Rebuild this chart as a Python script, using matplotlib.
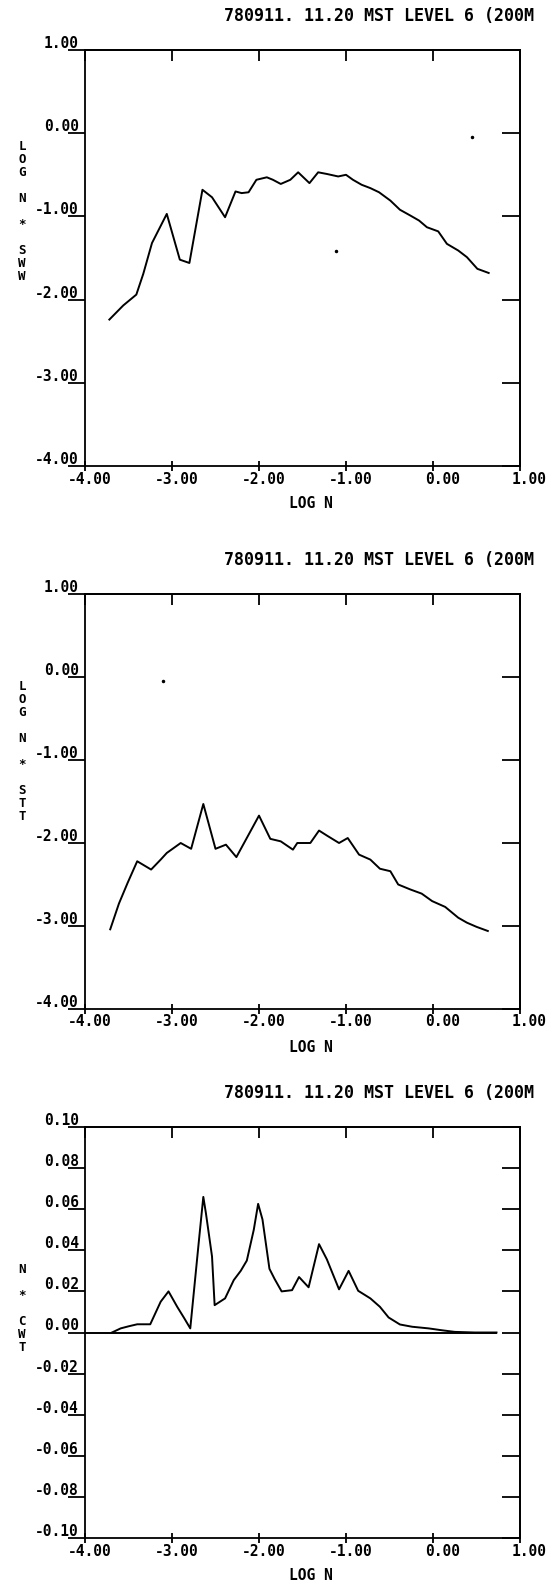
import matplotlib.pyplot as plt
from matplotlib.transforms import offset_copy, blended_transform_factory

TITLE = "780911. 11.20 MST LEVEL 6 (200M"
X_LABEL = "LOG N"
X_TICKS = [-4.0, -3.0, -2.0, -1.0, 0.0, 1.0]

# panel 1: LOG N * SWW
sww_x = [-3.72, -3.56, -3.41, -3.33, -3.23, -3.06, -2.91, -2.80, -2.65, -2.54,
         -2.39, -2.27, -2.20, -2.12, -2.03, -1.91, -1.84, -1.75, -1.64, -1.55,
         -1.42, -1.32, -1.22, -1.09, -1.00, -0.92, -0.82, -0.72, -0.62, -0.49,
         -0.38, -0.26, -0.16, -0.07, 0.06, 0.16, 0.29, 0.39, 0.51, 0.64]
sww_y = [-2.24, -2.07, -1.94, -1.69, -1.32, -0.97, -1.52, -1.56, -0.68, -0.77,
         -1.01, -0.70, -0.72, -0.71, -0.56, -0.53, -0.56, -0.61, -0.56, -0.47,
         -0.60, -0.47, -0.49, -0.52, -0.50, -0.56, -0.62, -0.66, -0.71, -0.81,
         -0.92, -0.99, -1.05, -1.13, -1.18, -1.33, -1.41, -1.49, -1.63, -1.68]
sww_specks_x = [0.45, -1.11]
sww_specks_y = [-0.04, -1.41]

# panel 2: LOG N * STT
stt_x = [-3.71, -3.61, -3.51, -3.40, -3.24, -3.13, -3.06, -2.90, -2.78, -2.64,
         -2.50, -2.38, -2.26, -2.13, -2.00, -1.87, -1.75, -1.61, -1.56, -1.41,
         -1.31, -1.22, -1.08, -0.98, -0.85, -0.72, -0.61, -0.49, -0.40, -0.26,
         -0.13, -0.01, 0.14, 0.29, 0.39, 0.50, 0.63]
stt_y = [-3.04, -2.73, -2.48, -2.22, -2.32, -2.20, -2.12, -2.00, -2.07, -1.53,
         -2.07, -2.02, -2.17, -1.92, -1.67, -1.95, -1.98, -2.08, -2.00, -2.00,
         -1.85, -1.91, -2.00, -1.94, -2.14, -2.20, -2.31, -2.34, -2.50, -2.56,
         -2.61, -2.70, -2.77, -2.90, -2.96, -3.01, -3.06]
stt_specks_x = [-3.10]
stt_specks_y = [-0.05]

# panel 3: N * CWT
cwt_x = [-3.69, -3.59, -3.50, -3.40, -3.25, -3.13, -3.04, -2.94, -2.86, -2.79,
         -2.69, -2.64, -2.61, -2.54, -2.51, -2.39, -2.29, -2.21, -2.14, -2.06,
         -2.01, -1.96, -1.88, -1.82, -1.74, -1.62, -1.54, -1.43, -1.31, -1.22,
         -1.08, -0.97, -0.86, -0.72, -0.61, -0.51, -0.38, -0.24, -0.05, 0.10,
         0.25, 0.48, 0.73]
cwt_y = [0.000, 0.002, 0.003, 0.004, 0.004, 0.015, 0.020, 0.0125, 0.007, 0.002,
         0.045, 0.066, 0.058, 0.037, 0.0133, 0.0166, 0.0255, 0.030, 0.035, 0.050,
         0.0626, 0.055, 0.031, 0.026, 0.020, 0.0206, 0.027, 0.022, 0.043, 0.0356,
         0.021, 0.030, 0.0203, 0.0166, 0.0125, 0.0073, 0.0039, 0.0028, 0.002, 0.0011,
         0.0003, 0.0, 0.0]

log_ticks = [-4.0, -3.0, -2.0, -1.0, 0.0, 1.0]
cwt_ticks = [-0.10, -0.08, -0.06, -0.04, -0.02, 0.00, 0.02, 0.04, 0.06, 0.08, 0.10]

FONT = "DejaVu Sans Mono"
W, H = 555, 1581
PT = 0.72  # points per pixel at dpi 100
TICK_FS = 10.5
LW = 1.3

fig = plt.figure(figsize=(W / 100, H / 100), dpi=100)


def fmt(v):
    s = f"{v:.2f}"
    return "0.00" if s == "-0.00" else s


def draw_panel(top_px, bottom_px, x, y, yticks, ylabel, label_top, specks=None, baseline=False):
    left_px, right_px = 85, 520
    ax = fig.add_axes([left_px / W, 1 - bottom_px / H, (right_px - left_px) / W,
                       (bottom_px - top_px) / H])
    ax.plot(x, y, color="black", lw=1.4)
    if baseline:
        ax.hlines(0, X_TICKS[0], x[-1], color="black", lw=1.4)
    if specks:
        ax.plot(specks[0], specks[1], "o", color="black", ms=1.5)
    ax.set_xlim(X_TICKS[0], X_TICKS[-1])
    ax.set_ylim(yticks[0], yticks[-1])
    ax.set_xticks(X_TICKS, labels=[""] * len(X_TICKS))
    ax.set_yticks(yticks, labels=[""] * len(yticks))
    ax.tick_params(axis="y", direction="out", length=12, width=LW, right=False)
    ax.tick_params(axis="x", direction="inout", length=7, width=LW, top=False)
    for sp in ax.spines.values():
        sp.set_linewidth(LW)

    top = ax.secondary_xaxis("top")
    top.set_xticks(X_TICKS, labels=[""] * len(X_TICKS))
    top.tick_params(direction="in", length=8, width=LW)
    top.spines["top"].set_linewidth(LW)
    right = ax.secondary_yaxis("right")
    right.set_yticks(yticks, labels=[""] * len(yticks))
    right.tick_params(direction="in", length=13, width=LW)
    right.spines["right"].set_linewidth(LW)

    adv = 0.602 * TICK_FS
    for v in X_TICKS:
        s = fmt(v)
        d = s.index(".")
        tr = offset_copy(ax.get_xaxis_transform(), fig=fig, units="points",
                         x=5 * PT - (d + 0.5) * adv, y=-13 * PT)
        ax.text(v, 0, s, transform=tr, ha="left", va="center", family=FONT,
                weight="bold", fontsize=TICK_FS)
    for v in yticks:
        tr = offset_copy(ax.get_yaxis_transform(), fig=fig, units="points",
                         x=-6 * PT, y=2 * PT)
        ax.text(0, v, fmt(v), transform=tr, ha="right", va="baseline", family=FONT,
                weight="bold", fontsize=TICK_FS)

    tr = offset_copy(ax.transAxes, fig=fig, units="points", y=-38 * PT)
    ax.text(0.52, 0, X_LABEL, transform=tr, ha="center", va="center", family=FONT,
            weight="bold", fontsize=TICK_FS)

    tr = blended_transform_factory(fig.transFigure, ax.transAxes)
    ax.text(22 / W, label_top, "\n".join(ylabel), transform=tr, ha="center", va="top",
            family=FONT, weight="bold", fontsize=9, linespacing=1.0)

    fig.text(534 / W, 1 - (top_px - 34) / H, TITLE, ha="right", va="center",
             family=FONT, weight="bold", fontsize=12)
    return ax


draw_panel(50, 466, sww_x, sww_y, log_ticks, "LOG N * SWW", 0.784,
           specks=(sww_specks_x, sww_specks_y))
draw_panel(594, 1009, stt_x, stt_y, log_ticks, "LOG N * STT", 0.793,
           specks=(stt_specks_x, stt_specks_y))
draw_panel(1127, 1538, cwt_x, cwt_y, cwt_ticks, "N * CWT", 0.67, baseline=True)

fig.savefig("out.png", dpi=100)
plt.close(fig)
